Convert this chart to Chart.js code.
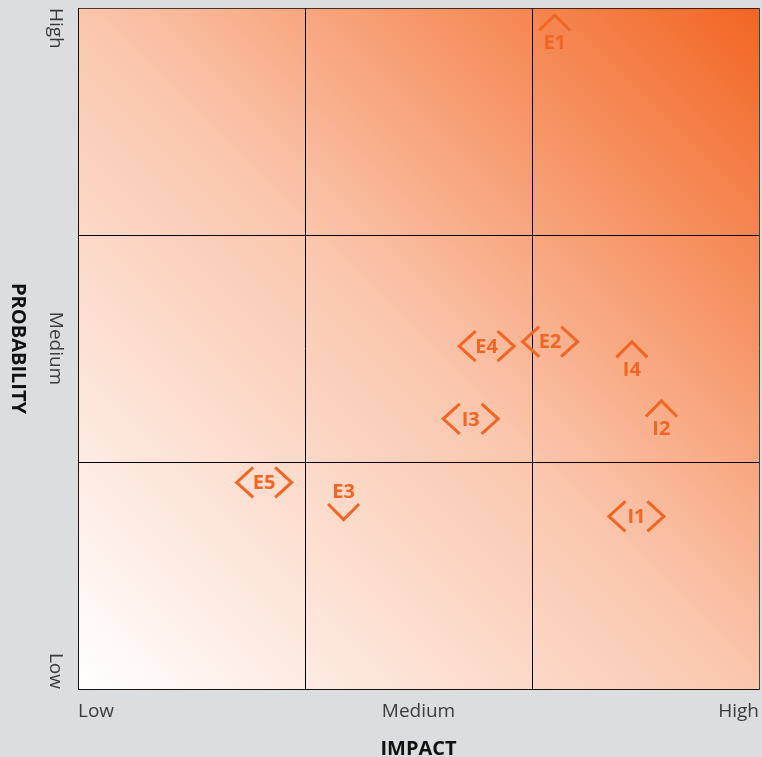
<!DOCTYPE html>
<html>
<head>
<meta charset="utf-8">
<script src="https://cdn.jsdelivr.net/npm/chart.js@4.4.1/dist/chart.umd.min.js"></script>
<style>
  html, body { margin: 0; padding: 0; background: #dcdddf; }
  canvas { display: block; }
</style>
</head>
<body>
<canvas id="matrix" width="762" height="757"></canvas>
<script>
// Risk register: identifiers, position on the impact / probability grid, and trend
const riskIds     = ['E1', 'E2', 'E3', 'E4', 'E5', 'I1', 'I2', 'I3', 'I4'];
const impact      = [2.10, 2.08, 1.17, 1.80, 0.82, 2.46, 2.57, 1.73, 2.44];
const probability = [2.85, 1.53, 0.87, 1.51, 0.91, 0.76, 1.15, 1.19, 1.41];
const trend       = ['up', 'stable', 'down', 'stable', 'stable', 'stable', 'up', 'stable', 'up'];

// Axis levels and where their labels sit on the 0..3 scale
const levelLabels    = ['Low', 'Medium', 'High'];
const levelPositions = [0, 1.5, 3];
const bandEdges      = [0, 1, 2, 3];

const markColor = '#f26522';
const edgeColor = 'rgba(0,0,0,0.7)';

function gridColor(v) {
  if (bandEdges.indexOf(v) === -1) return 'rgba(0,0,0,0)';
  return (v === 0 || v === 3) ? edgeColor : '#000000';
}
function levelFor(v) {
  const i = levelPositions.indexOf(v);
  return i === -1 ? '' : levelLabels[i];
}

// Diagonal heat gradient behind the grid
const heatBackground = {
  id: 'heatBackground',
  beforeDraw(chart) {
    const { ctx, chartArea: a } = chart;
    const g = ctx.createLinearGradient(a.left, a.bottom, a.right, a.top);
    g.addColorStop(0, '#ffffff');
    g.addColorStop(0.5, '#fac6ad');
    g.addColorStop(1, '#f26522');
    ctx.save();
    ctx.fillStyle = g;
    ctx.fillRect(a.left, a.top, a.right - a.left, a.bottom - a.top);
    ctx.restore();
  }
};

// Vertical axis labels and title, read top to bottom
const probabilityAxis = {
  id: 'probabilityAxis',
  afterDraw(chart) {
    const { ctx } = chart;
    const y = chart.scales.y;
    ctx.save();
    ctx.fillStyle = '#3c3c3c';
    ctx.font = '19px "Open Sans", sans-serif';
    ctx.textBaseline = 'middle';
    levelLabels.forEach((label, i) => {
      const py = y.getPixelForValue(levelPositions[i]);
      ctx.save();
      ctx.translate(55, py);
      ctx.rotate(Math.PI / 2);
      ctx.textAlign = i === 0 ? 'right' : (i === levelLabels.length - 1 ? 'left' : 'center');
      ctx.fillText(label, 0, 0);
      ctx.restore();
    });
    ctx.fillStyle = '#111111';
    ctx.font = 'bold 20px "Open Sans", sans-serif';
    ctx.textAlign = 'center';
    ctx.translate(18, (y.top + y.bottom) / 2);
    ctx.rotate(Math.PI / 2);
    ctx.fillText('PROBABILITY', 0, 0);
    ctx.restore();
  }
};

// Risk ids with trend chevrons
const riskMarkers = {
  id: 'riskMarkers',
  afterDatasetsDraw(chart) {
    const { ctx } = chart;
    const meta = chart.getDatasetMeta(0);
    ctx.save();
    ctx.fillStyle = markColor;
    ctx.strokeStyle = markColor;
    ctx.lineWidth = 3;
    ctx.lineJoin = 'miter';
    ctx.font = 'bold 20px "Open Sans", sans-serif';
    ctx.textAlign = 'center';
    ctx.textBaseline = 'middle';
    meta.data.forEach((pt, i) => {
      const { x, y } = pt.getProps(['x', 'y'], true);
      ctx.fillText(riskIds[i], x, y + 1);
      ctx.beginPath();
      if (trend[i] === 'up') {
        ctx.moveTo(x - 15.5, y - 11.5);
        ctx.lineTo(x, y - 27);
        ctx.lineTo(x + 15.5, y - 11.5);
      } else if (trend[i] === 'down') {
        ctx.moveTo(x - 15.5, y + 12.5);
        ctx.lineTo(x, y + 28);
        ctx.lineTo(x + 15.5, y + 12.5);
      } else {
        ctx.moveTo(x - 11, y - 15);
        ctx.lineTo(x - 27.5, y);
        ctx.lineTo(x - 11, y + 15);
        ctx.moveTo(x + 11, y - 15);
        ctx.lineTo(x + 27.5, y);
        ctx.lineTo(x + 11, y + 15);
      }
      ctx.stroke();
    });
    ctx.restore();
  }
};

// Keep the plot area flush with the layout padding (no label overhang)
function clearPadding(s) {
  s.paddingLeft = 0;
  s.paddingRight = 0;
  s.paddingTop = 0;
  s.paddingBottom = 0;
}

Chart.defaults.font.family = '"Open Sans", sans-serif';

new Chart(document.getElementById('matrix'), {
  type: 'scatter',
  data: {
    datasets: [{
      data: riskIds.map((id, i) => ({ x: impact[i], y: probability[i] })),
      pointRadius: 0,
      pointHoverRadius: 0
    }]
  },
  options: {
    responsive: false,
    animation: false,
    events: [],
    layout: { padding: { top: 8, right: 3, left: 0, bottom: 0 } },
    plugins: { legend: { display: false }, tooltip: { enabled: false } },
    scales: {
      x: {
        type: 'linear',
        min: 0,
        max: 3,
        afterBuildTicks: s => { s.ticks = [0, 1, 1.5, 2, 3].map(v => ({ value: v })); },
        afterFit: s => { s.height = 68; clearPadding(s); },
        grid: { color: c => gridColor(c.tick && c.tick.value), drawTicks: false, lineWidth: 1 },
        border: { display: true, color: edgeColor, width: 1 },
        ticks: {
          autoSkip: false,
          maxRotation: 0,
          minRotation: 0,
          align: 'inner',
          padding: 11,
          color: '#3c3c3c',
          font: { size: 19 },
          callback: v => levelFor(v)
        },
        title: {
          display: true,
          text: 'IMPACT',
          color: '#111111',
          font: { size: 20, weight: 'bold', lineHeight: 1 },
          padding: { top: 0, bottom: -2 }
        }
      },
      y: {
        type: 'linear',
        min: 0,
        max: 3,
        afterBuildTicks: s => { s.ticks = bandEdges.map(v => ({ value: v })); },
        afterFit: s => { s.width = 78; clearPadding(s); },
        grid: { color: c => gridColor(c.tick && c.tick.value), drawTicks: false, lineWidth: 1 },
        border: { display: true, color: edgeColor, width: 1 },
        ticks: { display: false }
      }
    }
  },
  plugins: [heatBackground, probabilityAxis, riskMarkers]
});
</script>
</body>
</html>
